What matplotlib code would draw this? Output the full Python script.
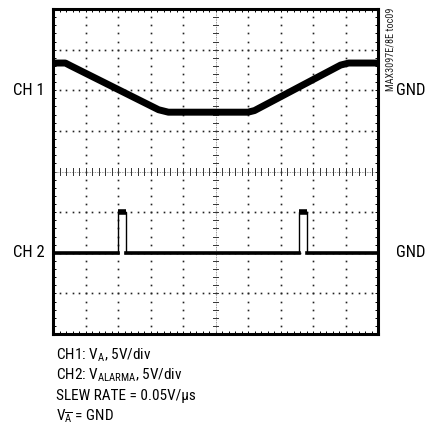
import matplotlib.pyplot as plt
import numpy as np

# screen divisions: 10 horizontal x 8 vertical
ch1_t = [0.0, 0.38, 0.55, 3.25, 3.55, 6.0, 6.2, 8.85, 9.1, 10.0]
ch1_v = [6.67, 6.67, 6.60, 5.52, 5.46, 5.46, 5.50, 6.62, 6.67, 6.67]

ch2_t = [0.0, 2.0, 2.0, 2.24, 2.24, 7.57, 7.57, 7.80, 7.80, 10.0]
ch2_v = [2.0, 2.0, 3.0, 3.0, 2.0, 2.0, 3.0, 3.0, 2.0, 2.0]
pulse_tops = [(2.0, 2.24), (7.57, 7.80)]

ch1_gnd = 6.0
ch2_gnd = 2.0

notes = [r'CH1: V$_\mathregular{A}$, 5V/div',
         r'CH2: V$_\mathregular{ALARMA}$, 5V/div',
         'SLEW RATE = 0.05V/μs',
         r'V$_{\mathregular{\overline{A}}}$ = GND']

plt.rcParams['font.family'] = ['Roboto Condensed', 'DejaVu Sans']
plt.rcParams['mathtext.fontset'] = 'custom'
plt.rcParams['mathtext.rm'] = 'Roboto Condensed'

fig = plt.figure(figsize=(4.25, 4.32), dpi=100)
ax = fig.add_axes([53 / 425, 1 - 334 / 432, 325 / 425, 325 / 432])
ax.set_xlim(0, 10)
ax.set_ylim(0, 8)

# dotted graticule
for gx in range(1, 10):
    if gx == 5:
        continue
    ys = np.arange(0, 8.01, 0.2)
    ax.plot([gx] * len(ys), ys, ls='none', marker='s', ms=1.2, color='#222222', mew=0)
for gy in range(1, 8):
    if gy == 4:
        continue
    xs = np.arange(0, 10.01, 0.2)
    ax.plot(xs, [gy] * len(xs), ls='none', marker='s', ms=1.2, color='#222222', mew=0)

# center crosshair with small ticks
ax.plot([5, 5], [0, 8], color='#777777', lw=0.6, ls=(0, (1, 1)))
ax.plot([0, 10], [4, 4], color='#777777', lw=0.6, ls=(0, (1, 1)))
for yy in np.arange(0.2, 8, 0.2):
    ax.plot([4.93, 5.07], [yy, yy], color='#333333', lw=0.7)
for xx in np.arange(0.2, 10, 0.2):
    ax.plot([xx, xx], [3.92, 4.08], color='#333333', lw=0.7)

# traces
ax.plot(ch1_t, ch1_v, color='black', lw=5.0, solid_capstyle='butt', solid_joinstyle='round')
ax.plot(ch2_t, ch2_v, color='black', lw=1.0)
ax.plot([0, 2.0], [2, 2], color='black', lw=2.6)
ax.plot([2.24, 7.57], [2, 2], color='black', lw=2.6)
ax.plot([7.80, 10], [2, 2], color='black', lw=2.6)
for a, b in pulse_tops:
    ax.plot([a, b], [3.0, 3.0], color='black', lw=4.0, solid_capstyle='butt')

ax.set_xticks(range(11))
ax.set_yticks(range(9))
ax.set_xticks(np.arange(0, 10.01, 0.2), minor=True)
ax.set_yticks(np.arange(0, 8.01, 0.2), minor=True)
ax.tick_params(which='both', direction='in', top=True, right=True,
               labelbottom=False, labelleft=False, length=2.5, width=0.7)
for s in ax.spines.values():
    s.set_linewidth(2.2)

# channel labels
ax.text(-0.25, ch1_gnd, 'CH 1', ha='right', va='center', fontsize=12)
ax.text(-0.25, ch2_gnd, 'CH 2', ha='right', va='center', fontsize=12)
ax.text(10.55, ch1_gnd, 'GND', ha='left', va='center', fontsize=12, clip_on=False)
ax.text(10.55, ch2_gnd, 'GND', ha='left', va='center', fontsize=12, clip_on=False)
fig.text(391 / 425, 1 - 49 / 432, 'MAX3097E/8E toc09', rotation=90, ha='center',
         va='center', fontsize=7.3, color='#222222')

for i, s in enumerate(notes):
    fig.text(56 / 425, 1 - (355 + i * 20.5) / 432, s, ha='left', va='center', fontsize=11)

fig.savefig('out.png', dpi=100)
